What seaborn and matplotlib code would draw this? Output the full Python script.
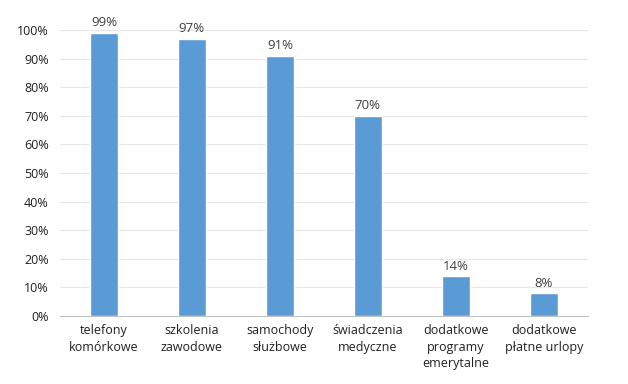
import matplotlib
matplotlib.use('Agg')
import matplotlib.pyplot as plt
import seaborn as sns
import pandas as pd
from matplotlib.ticker import PercentFormatter

# Dane
kategorie = ['telefony\nkomórkowe', 'szkolenia\nzawodowe', 'samochody\nsłużbowe',
             'świadczenia\nmedyczne', 'dodatkowe\nprogramy\nemerytalne',
             'dodatkowe\npłatne urlopy']
wartosci = [0.99, 0.97, 0.91, 0.70, 0.14, 0.08]
etykiety = ['99%', '97%', '91%', '70%', '14%', '8%']

df = pd.DataFrame({'kategoria': kategorie, 'wartosc': wartosci})

sns.set_style('white')
plt.rcParams['font.family'] = ['Open Sans', 'DejaVu Sans']

fig = plt.figure(figsize=(6.28, 3.84), dpi=100)
ax = fig.add_axes([0.0955, 0.177, 0.8405, 0.745])

sns.barplot(data=df, x='kategoria', y='wartosc', color='#5b9bd5',
            width=0.32, saturation=1, ax=ax, zorder=3)

for i, (v, t) in enumerate(zip(wartosci, etykiety)):
    ax.text(i, v + 0.012, t, ha='center', va='bottom', fontsize=9.5, color='#404040')

ax.set_ylim(0, 1.0)
ax.set_yticks([i / 10 for i in range(11)])
ax.yaxis.set_major_formatter(PercentFormatter(1.0, decimals=0))
ax.grid(axis='y', color='#e6e6e6', linewidth=0.8, zorder=0)
ax.set_xlabel('')
ax.set_ylabel('')
for s in ['top', 'right', 'left']:
    ax.spines[s].set_visible(False)
ax.spines['bottom'].set_color('#c0c0c0')
ax.tick_params(axis='both', length=0, labelsize=9, colors='#202020')
ax.tick_params(axis='x', pad=6)
ax.tick_params(axis='y', pad=8)
for lbl in ax.get_xticklabels():
    lbl.set_linespacing(1.35)

plt.savefig('out.png', dpi=100)
